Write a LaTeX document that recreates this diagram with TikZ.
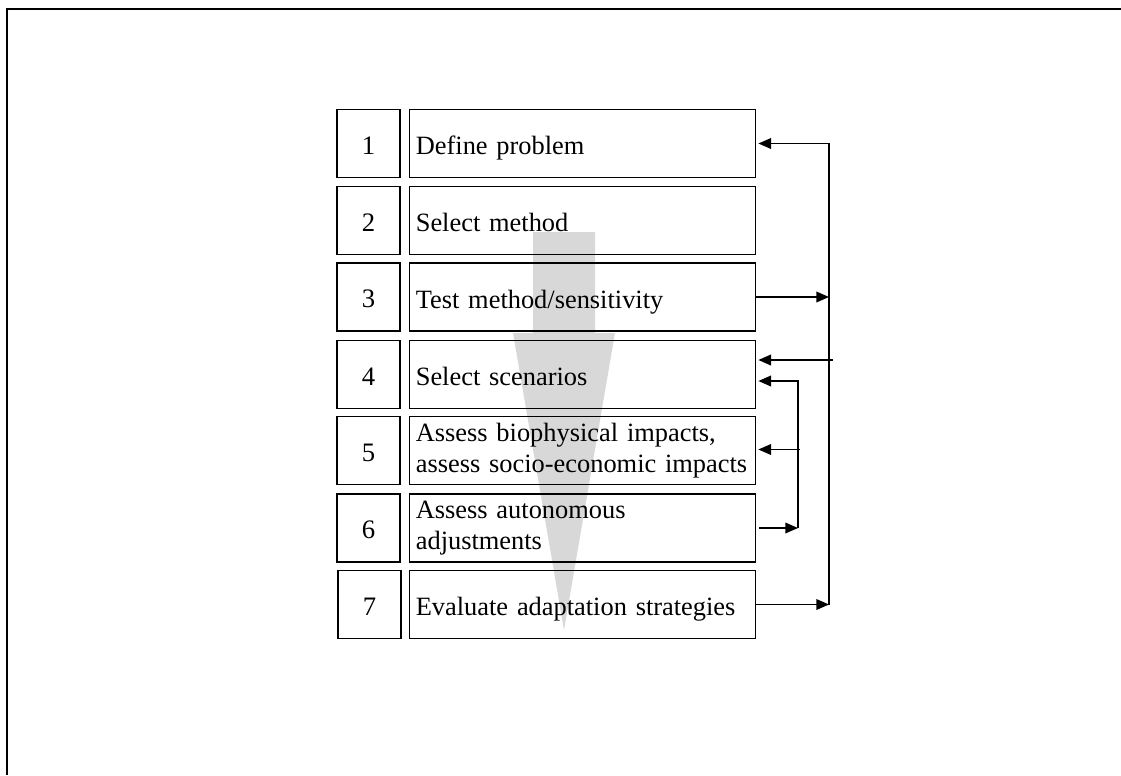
\documentclass[tikz,border=0pt]{standalone}
\usepackage{fontspec}
\setmainfont{Liberation Serif}
\usetikzlibrary{arrows.meta}
\definecolor{flowgray}{RGB}{216,216,216}
\begin{document}
\begin{tikzpicture}[x=0.75pt,y=-0.75pt,
  numbox/.style={draw,line width=1pt,minimum width=47.25pt,minimum height=51pt,inner sep=0pt,text height=16pt,text depth=0pt,font=\fontsize{20}{22.5}\selectfont},
  textbox/.style={draw,line width=1pt,minimum height=51pt,text width=250pt,inner xsep=4.9pt,inner ysep=0pt,align=left,font=\fontsize{19.8}{22.8}\selectfont},
  oneline/.style={text height=16.8pt,text depth=0.2pt},
  conn/.style={line width=1.1pt},
  arr/.style={conn,-{Triangle[length=9.5pt,width=8pt]}}]
\useasboundingbox (0,0) rectangle (1121,775);
% background flow arrow
\fill[flowgray] (533,232) -- (595,232) -- (595,333) -- (615,333) -- (564,630) -- (513,333) -- (533,333) -- cycle;
% frame
\draw[line width=1.5pt] (7,775) -- (7,9) -- (1121,9);
% boxes
\node[numbox] (n1) at (368.5,143.5) {1};
\node[textbox,oneline] (t1) at (582.5,143.5) {Define problem};
\node[numbox] (n2) at (368.5,220.5) {2};
\node[textbox,oneline] (t2) at (582.5,220.5) {Select method};
\node[numbox] (n3) at (368.5,297) {3};
\node[textbox,oneline] (t3) at (582.5,297) {Test method/sensitivity};
\node[numbox] (n4) at (368.5,374.5) {4};
\node[textbox,oneline] (t4) at (582.5,374.5) {Select scenarios};
\node[numbox] (n5) at (368.5,450.5) {5};
\node[textbox] (t5) at (582.5,450.5) {Assess biophysical impacts,\\assess socio-economic impacts};
\node[numbox] (n6) at (368.5,528) {6};
\node[textbox] (t6) at (582.5,528) {Assess autonomous\\adjustments};
\node[numbox] (n7) at (369.5,604.5) {7};
\node[textbox,oneline] (t7) at (582.5,604.5) {Evaluate adaptation strategies};
% connector points
\coordinate (c1) at (829,143.5);
\coordinate (c3) at (829,297);
\coordinate (c4) at (833,360);
\coordinate (c7) at (829,604.5);
\coordinate (d4) at (798,381);
\coordinate (d5) at (800,449.5);
\coordinate (d6) at (798,528);
% connectors
\draw[arr,shorten >=1.5pt] (c7) -- (c1) -- (t1.east);
\draw[arr] (t3.east) -- (c3);
\draw[arr] (t7.east) -- (c7);
\draw[arr,shorten >=1.5pt] (c4) -- (c4 -| t4.east);
\draw[arr,shorten >=1.5pt] (d6) -- (d4) -- (d4 -| t4.east);
\draw[arr,shorten >=1.5pt] (d5) -- (d5 -| t5.east);
\draw[arr,shorten <=2.25pt] (t6.east) -- (d6);
\end{tikzpicture}
\end{document}
